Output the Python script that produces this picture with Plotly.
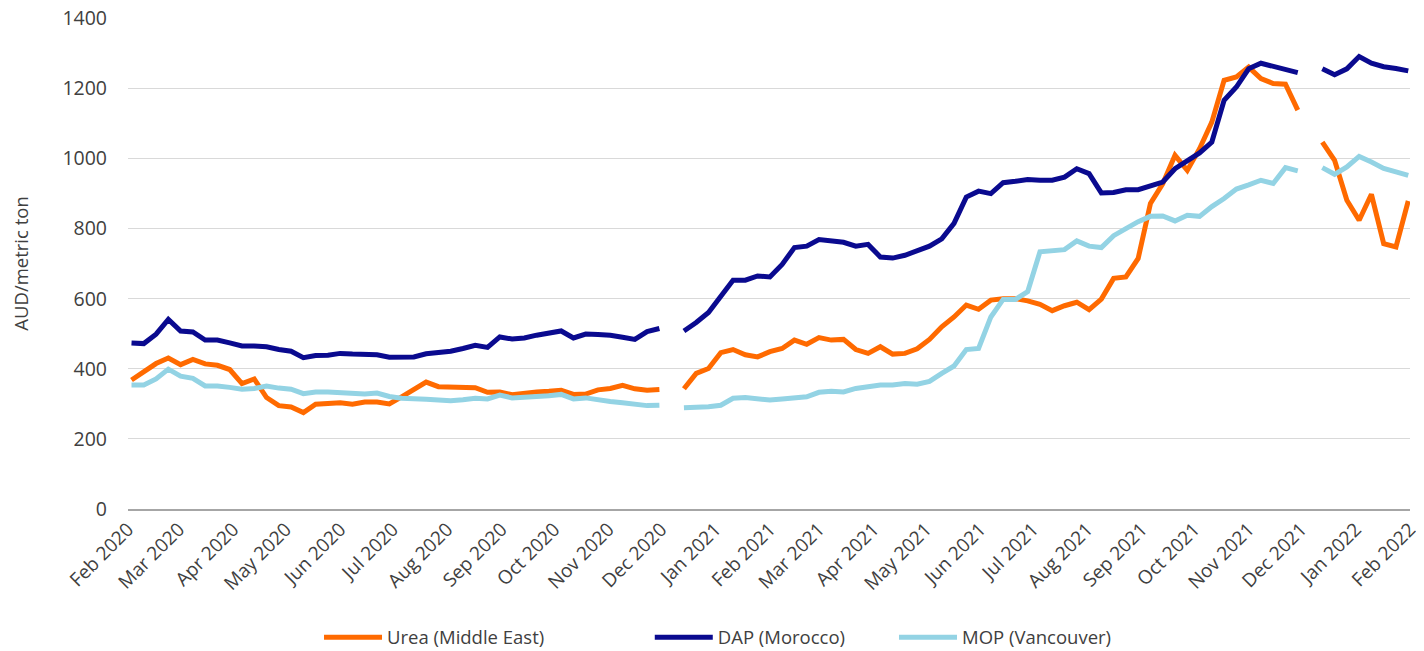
"""Weekly fertiliser prices (AUD/metric ton), Feb 2020 - Feb 2022."""

import pandas as pd
import plotly.graph_objects as go

# ── data ──────────────────────────────────────────────────────────────────────
# weekly observations (Mondays); None = no quote that week
weeks = pd.date_range("2020-02-03", periods=105, freq="7D")

urea = [
    368, 393, 415, 431, 412, 427, 414, 410, 398, 358,
    371, 318, 295, 291, 275, 299, 302, 303, 299, 305,
    305, 300, 320, 340, 362, 349, 347, 346, 346, 333,
    334, 326, 331, 334, 336, 339, 327, 328, 340, 344,
    353, 343, 339, 341, None, 343, 387, 401, 446, 455,
    440, 434, 449, 458, 482, 470, 489, 482, 484, 455,
    444, 463, 442, 444, 457, 484, 520, 548, 582, 570,
    596, 600, 600, 594, 584, 566, 580, 590, 569, 599,
    658, 662, 715, 872, 928, 1009, 966, 1028, 1104, 1223,
    1233, 1261, 1228, 1214, 1212, 1138, None, 1047, 995, 881,
    824, 898, 757, 748, 879,
]

dap = [
    474, 472, 499, 541, 508, 505, 482, 482, 474, 465,
    465, 463, 455, 450, 432, 438, 439, 444, 442, 441,
    440, 433, 434, 434, 443, 447, 450, 458, 467, 461,
    491, 485, 488, 496, 502, 508, 488, 499, 498, 496,
    490, 484, 506, 515, None, 508, 532, 561, 607, 653,
    653, 665, 662, 698, 746, 750, 769, 765, 761, 750,
    755, 719, 716, 724, 736, 750, 771, 815, 890, 907,
    900, 931, 935, 940, 938, 938, 947, 971, 957, 902,
    903, 911, 911, 921, 933, 971, 992, 1016, 1047, 1166,
    1204, 1256, 1272, 1264, 1256, 1245, None, 1256, 1239, 1256,
    1291, 1272, 1262, 1257, 1250,
]

mop = [
    354, 354, 371, 399, 379, 373, 351, 351, 347, 342,
    344, 351, 345, 342, 329, 334, 334, 332, 333, 328,
    331, 321, 316, 313, 313, 311, 309, 312, 316, 314,
    325, 317, 318, 320, 323, 327, 314, 317, 311, 307,
    303, 299, 295, 296, None, 289, 290, 292, 296, 316,
    318, 313, 311, 314, 317, 320, 333, 336, 334, 344,
    349, 354, 354, 358, 356, 364, 387, 408, 455, 458,
    548, 598, 598, 620, 734, 736, 740, 765, 750, 746,
    780, 800, 820, 835, 836, 822, 838, 835, 863, 886,
    913, 925, 938, 929, 974, 965, None, 974, 955, 976,
    1006, 990, 972, 962, 952,
]

series_names = ["Urea (Middle East)", "DAP (Morocco)", "MOP (Vancouver)"]

# ── style ─────────────────────────────────────────────────────────────────────
_ORANGE = "#ff6a00"
_NAVY = "#0a0a8f"
_SKY = "#93d3e4"
_GRID = "#d9d9d9"
_AXIS = "#a6a6a6"
_TEXT = "#404040"
_FONT = "Open Sans, Noto Sans, sans-serif"

fig = go.Figure()
for name, vals, col, leg in zip(
    series_names, [urea, dap, mop], [_ORANGE, _NAVY, _SKY],
    ["legend", "legend2", "legend3"],
):
    fig.add_trace(go.Scatter(
        x=weeks, y=vals, name=name, mode="lines",
        line=dict(color=col, width=5),
        connectgaps=False, legend=leg,
    ))

# one legend per series so each entry can sit where the original has it
_leg = dict(
    orientation="h", yanchor="middle", y=-0.262, xanchor="left",
    itemwidth=58,
    bgcolor="rgba(0,0,0,0)", font=dict(family=_FONT, size=18.5, color=_TEXT),
)

# the page body adds an 8px margin, so the figure is 8px smaller than the window
fig.update_layout(
    width=1416, height=643,
    paper_bgcolor="white", plot_bgcolor="white",
    font=dict(family=_FONT, size=19, color=_TEXT),
    margin=dict(l=120, r=14, t=10, b=142, autoexpand=False),
    showlegend=True,
    legend=dict(_leg, x=0.149),
    legend2=dict(_leg, x=0.407),
    legend3=dict(_leg, x=0.5975),
    xaxis=dict(
        type="date", automargin=False,
        range=["2020-02-01", "2022-02-01"],
        dtick="M1", tick0="2020-02-01", tickformat="%b %Y",
        tickangle=-45, showgrid=False,
        showline=True, linecolor=_AXIS, linewidth=1.5,
        ticks="", tickfont=dict(size=19, color=_TEXT),
    ),
    yaxis=dict(
        automargin=False,
        range=[0, 1401], tickvals=[0, 200, 400, 600, 800, 1000, 1200, 1400],
        ticklabeloverflow="allow",
        gridcolor=_GRID, gridwidth=1.3, zeroline=False,
        showline=False, ticks="",
        ticklabelstandoff=20,
        title=dict(text="AUD/metric ton", standoff=28,
                   font=dict(size=18.5, color=_TEXT)),
        tickfont=dict(size=19.5, color=_TEXT),
    ),
)

fig.write_html("out.html")
